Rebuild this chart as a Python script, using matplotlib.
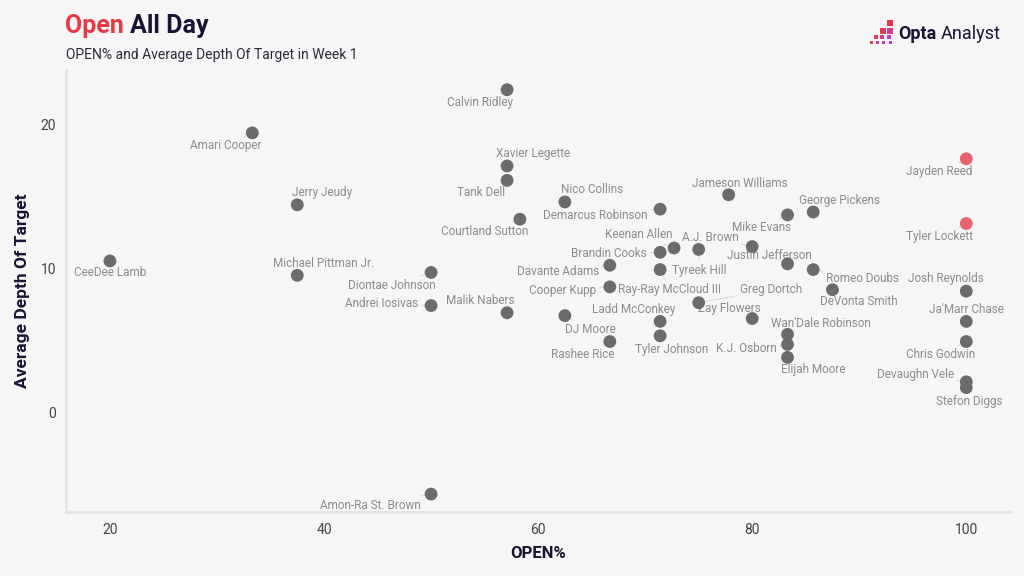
import matplotlib.pyplot as plt
from matplotlib.patches import Rectangle

# Data: OPEN% vs average depth of target, week 1
players = [
    "CeeDee Lamb", "Amari Cooper", "Jerry Jeudy", "Michael Pittman Jr.",
    "Diontae Johnson", "Andrei Iosivas", "Amon-Ra St. Brown", "Calvin Ridley",
    "Xavier Legette", "Tank Dell", "Courtland Sutton", "Malik Nabers",
    "Nico Collins", "DJ Moore", "Demarcus Robinson", "Brandin Cooks",
    "Keenan Allen", "Tyreek Hill", "Davante Adams", "Cooper Kupp",
    "Rashee Rice", "Ray-Ray McCloud III", "Ladd McConkey", "Tyler Johnson",
    "A.J. Brown", "Greg Dortch", "Jameson Williams", "Zay Flowers",
    "Mike Evans", "Justin Jefferson", "Wan'Dale Robinson", "K.J. Osborn",
    "Elijah Moore", "George Pickens", "Romeo Doubs", "DeVonta Smith",
    "Jayden Reed", "Tyler Lockett", "Josh Reynolds", "Ja'Marr Chase",
    "Chris Godwin", "Devaughn Vele", "Stefon Diggs",
]
open_pct = [
    20.0, 33.3, 37.5, 37.5,
    50.0, 50.0, 50.0, 57.1,
    57.1, 57.1, 58.3, 57.1,
    62.5, 62.5, 71.4, 71.4,
    72.7, 75.0, 66.7, 66.7,
    66.7, 71.4, 71.4, 71.4,
    80.0, 75.0, 77.8, 80.0,
    83.3, 83.3, 83.3, 83.3,
    83.3, 85.7, 85.7, 87.5,
    100.0, 100.0, 100.0, 100.0,
    100.0, 100.0, 100.0,
]
adot = [
    10.5, 19.4, 14.4, 9.5,
    9.7, 7.4, -5.7, 22.4,
    17.1, 16.1, 13.4, 6.9,
    14.6, 6.7, 14.1, 11.1,
    11.4, 11.3, 10.2, 8.7,
    4.9, 9.9, 6.3, 5.3,
    11.5, 7.6, 15.1, 6.5,
    13.7, 10.3, 5.4, 4.7,
    3.8, 13.9, 9.9, 8.5,
    17.6, 13.1, 8.4, 6.3,
    4.9, 2.1, 1.7,
]
highlight = ["Jayden Reed", "Tyler Lockett"]

# label placement (pixel offsets from the point)
label_offsets = [
    (0, -12), (-27, -13), (25, 12), (26, 12),
    (-39, -13), (-49, 2), (-61, -11), (-27, -13),
    (26, 12), (-26, -12), (-35, -12), (-27, 12),
    (27, 12), (26, -14), (-65, -6), (-51, -1),
    (-35, 13), (1, -21), (-52, -6), (-47, -4),
    (-27, -13), (9, -20), (-26, 12), (11, -14),
    (-42, 9), (72, 13), (11, 11), (-23, 10),
    (-26, -13), (-18, 8), (33, 11), (-41, -4),
    (26, -12), (26, 12), (49, -9), (26, -12),
    (-27, -13), (-27, -13), (-20, 13), (0, 12),
    (-26, -13), (-51, 7), (3, -14),
]

BG = "#f6f6f6"
NAVY = "#1c1233"
RED = "#e23b46"
GREY_PT = "#6b6b6b"
RED_PT = "#e5636b"

plt.rcParams['font.family'] = ['Roboto', 'DejaVu Sans']

fig = plt.figure(figsize=(10.24, 5.76), dpi=100, facecolor=BG)
ax = fig.add_axes([0.0645, 0.111, 0.922, 0.767], facecolor=BG)

colors = [RED_PT if p in highlight else GREY_PT for p in players]
ax.scatter(open_pct, adot, s=85, c=colors, zorder=3, linewidths=0)

for name, x, y, off in zip(players, open_pct, adot, label_offsets):
    ax.annotate(name, (x, y), xytext=off, textcoords='offset pixels',
                ha='center', va='center', fontsize=8.5, color='#8c8c8c',
                arrowprops=dict(arrowstyle='-', color='#dcdcdc', lw=0.8,
                                shrinkA=0, shrinkB=5), zorder=2)

ax.set_xlim(15.9, 104.1)
ax.set_ylim(-6.95, 23.75)
ax.set_xticks([20, 40, 60, 80, 100])
ax.set_yticks([0, 10, 20])
ax.tick_params(length=0, labelsize=10, colors='#444444')
ax.tick_params(axis='x', pad=8)
ax.tick_params(axis='y', pad=7)
for s in ['top', 'right']:
    ax.spines[s].set_visible(False)
for s in ['left', 'bottom']:
    ax.spines[s].set_color('#e3e3e3')
    ax.spines[s].set_linewidth(2)

ax.set_xlabel("OPEN%", fontsize=12, fontweight='bold', color=NAVY, labelpad=6)
ax.set_ylabel("Average Depth Of Target", fontsize=12.5, fontweight='bold',
              color=NAVY, labelpad=8)

# title and subtitle
t1 = fig.text(0.0635, 0.942, "Open", fontsize=18, fontweight='bold', color=RED,
              va='baseline')
fig.canvas.draw()
bb = t1.get_window_extent()
fig.text(bb.x1 / fig.bbox.width + 0.006, 0.942, "All Day", fontsize=18,
         fontweight='bold', color=NAVY, va='baseline')
fig.text(0.0645, 0.905, "OPEN% and Average Depth Of Target in Week 1",
         fontsize=10, color='#2a2a3a', va='center')

# Opta Analyst logo (pixel staircase)
logo_sq = [
    (887, 20, 6, "#e8344a"),
    (880, 28, 6, "#e33a55"), (887, 28, 6, "#d63c8c"),
    (874, 35, 4, "#e0405a"), (880, 35, 4, "#d33f90"), (887, 35, 4, "#c23cc8"),
    (870, 41, 3, "#e2405e"), (876, 41, 3, "#cf3fa0"), (882, 41, 3, "#c43cc0"),
    (889, 41, 3, "#b83ad0"),
]
for px, py, sz, col in logo_sq:
    fig.add_artist(Rectangle((px / 1024, 1 - (py + sz) / 576), sz / 1024, sz / 576,
                             transform=fig.transFigure, color=col, lw=0))
lg = fig.text(898 / 1024, 1 - 34 / 576, "Opta", fontsize=13, fontweight='bold',
              color=NAVY, va='center')
fig.canvas.draw()
lb = lg.get_window_extent()
fig.text(lb.x1 / fig.bbox.width + 0.004, 1 - 34 / 576, "Analyst", fontsize=13,
         color=NAVY, va='center')

fig.savefig("out.png", dpi=100, facecolor=BG)
